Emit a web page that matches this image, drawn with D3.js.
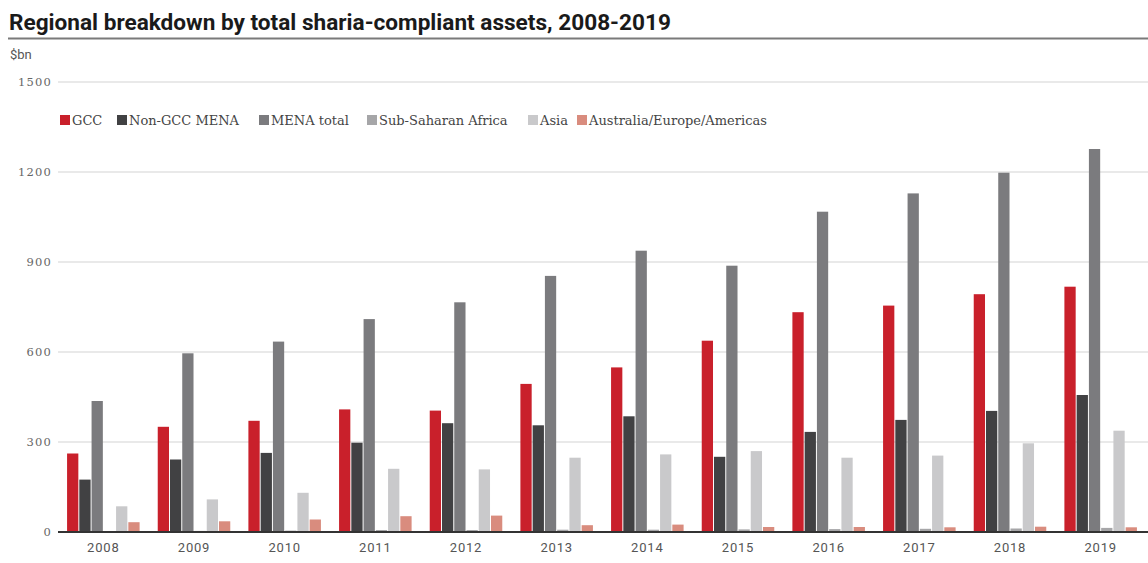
<!DOCTYPE html>
<html lang="en">
<head>
    <meta charset="utf-8">
    <title>Regional breakdown by total sharia-compliant assets, 2008-2019</title>
    <style>
        body { margin: 0; background: #fff; }
        svg { display: block; }
        .title { font-family: Roboto, sans-serif; font-weight: bold; font-size: 22.6px; fill: #1a1a1a; letter-spacing: 0px; }
        .unit { font-family: Roboto, sans-serif; font-size: 13px; fill: #555; }
        .ytick text { font-family: "DejaVu Serif", serif; font-size: 11.5px; fill: #666; letter-spacing: 1.2px; }
        .xtick text { font-family: Roboto, sans-serif; font-size: 13px; fill: #555; letter-spacing: 0.8px; }
        .legend text { font-family: "DejaVu Serif", serif; font-size: 13px; fill: #444; }
    </style>
    <!-- load the d3.js library -->
    <script src="https://cdn.jsdelivr.net/npm/d3@7"></script>
</head>
<body>
    <svg></svg>
    <script>
        // data ($bn)
        var years = ["2008", "2009", "2010", "2011", "2012", "2013", "2014", "2015", "2016", "2017", "2018", "2019"];
        var seriesNames = ["GCC", "Non-GCC MENA", "MENA total", "Sub-Saharan Africa", "Asia", "Australia/Europe/Americas"];
        var seriesColors = ["#c9202b", "#414143", "#7b7b7e", "#a6a6a8", "#c9c9cb", "#d98c7e"];
        var gcc        = [260, 349, 369, 407, 403, 492, 547, 636, 731, 753, 791, 816];
        var nonGccMena = [173, 240, 262, 296, 361, 354, 384, 249, 332, 372, 402, 455];
        var menaTotal  = [435, 594, 633, 708, 764, 852, 936, 886, 1066, 1127, 1196, 1275];
        var subSaharan = [1, 2, 3, 5, 5, 6, 6, 7, 8, 9, 10, 12];
        var asia       = [84, 107, 129, 209, 207, 246, 257, 268, 246, 253, 294, 336];
        var ausEurAm   = [31, 34, 40, 51, 53, 21, 23, 15, 15, 14, 16, 14];
        var yTicks = [0, 300, 600, 900, 1200, 1500];

        var seriesValues = [gcc, nonGccMena, menaTotal, subSaharan, asia, ausEurAm];

        var W = 1148, H = 563;
        var plot = {left: 58, right: 1148, top: 81.5, bottom: 531.5};

        var svg = d3.select("svg")
            .attr("width", W)
            .attr("height", H);

        // title + rule
        svg.append("text")
            .attr("class", "title")
            .attr("x", 9)
            .attr("y", 30)
            .text("Regional breakdown by total sharia-compliant assets, 2008-2019");
        svg.append("line")
            .attr("x1", 8).attr("x2", W)
            .attr("y1", 38.5).attr("y2", 38.5)
            .attr("stroke", "#7a7a7a")
            .attr("stroke-width", 2);
        svg.append("text")
            .attr("class", "unit")
            .attr("x", 10)
            .attr("y", 59)
            .text("$bn");

        // scales
        var y = d3.scaleLinear()
            .domain([0, 1500])
            .range([plot.bottom, plot.top]);
        var x0 = d3.scaleBand()
            .domain(years)
            .range([plot.left, 1146])
            .padding(0);
        var x1 = d3.scaleBand()
            .domain(seriesNames)
            .range([x0.bandwidth() * 0.1, x0.bandwidth() * 0.9])
            .paddingInner(0.08);
        var color = d3.scaleOrdinal()
            .domain(seriesNames)
            .range(seriesColors);

        // y axis with gridlines
        var yAxis = svg.append("g")
            .attr("class", "ytick")
            .attr("transform", "translate(" + plot.left + ",0)")
            .call(d3.axisLeft(y)
                .tickValues(yTicks)
                .tickFormat(d3.format("d"))
                .tickSize(-(plot.right - plot.left))
                .tickPadding(6));
        yAxis.select(".domain").remove();
        yAxis.selectAll(".tick line")
            .attr("stroke", "#d4d4d4")
            .attr("stroke-width", 1.2);

        // legend
        var legendX = [60, 117, 259, 367, 528, 577];
        var legend = svg.append("g").attr("class", "legend");
        seriesNames.forEach(function(name, i) {
            var g = legend.append("g")
                .attr("transform", "translate(" + legendX[i] + ",115)");
            g.append("rect")
                .attr("width", 10)
                .attr("height", 10)
                .attr("fill", seriesColors[i]);
            g.append("text")
                .attr("x", 12)
                .attr("y", 10)
                .text(name);
        });

        // bars
        var rows = years.map(function(yr, i) {
            return {year: yr, values: seriesNames.map(function(s, j) {
                return {key: s, value: seriesValues[j][i]};
            })};
        });

        svg.append("g")
            .selectAll("g")
            .data(rows)
            .enter().append("g")
            .attr("transform", function(d) { return "translate(" + x0(d.year) + ",0)"; })
            .selectAll("rect")
            .data(function(d) { return d.values; })
            .enter().append("rect")
            .attr("x", function(d) { return x1(d.key); })
            .attr("width", x1.bandwidth())
            .attr("y", function(d) { return y(d.value); })
            .attr("height", function(d) { return y(0) - y(d.value); })
            .attr("fill", function(d) { return color(d.key); });

        // x axis
        var xAxis = svg.append("g")
            .attr("class", "xtick")
            .attr("transform", "translate(0," + plot.bottom + ")")
            .call(d3.axisBottom(x0).tickSize(0).tickPadding(11));
        xAxis.select(".domain").remove();
        svg.append("line")
            .attr("x1", plot.left).attr("x2", plot.right)
            .attr("y1", plot.bottom + 0.5).attr("y2", plot.bottom + 0.5)
            .attr("stroke", "#333")
            .attr("stroke-width", 2);
    </script>
</body>
</html>
